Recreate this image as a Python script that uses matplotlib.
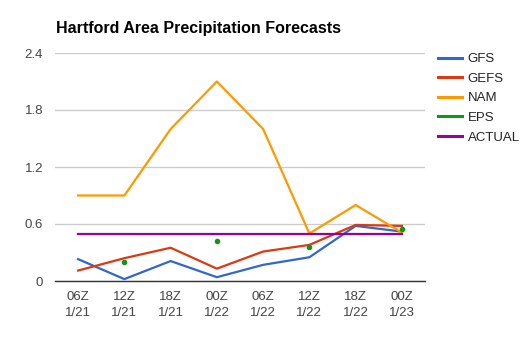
import numpy as np
import matplotlib.pyplot as plt

plt.rcParams['font.family'] = ['Liberation Sans', 'DejaVu Sans']

# forecast times
times = ['06Z\n1/21', '12Z\n1/21', '18Z\n1/21', '00Z\n1/22',
         '06Z\n1/22', '12Z\n1/22', '18Z\n1/22', '00Z\n1/23']
gfs = [0.23, 0.02, 0.21, 0.04, 0.17, 0.25, 0.58, 0.52]
gefs = [0.11, 0.24, 0.35, 0.13, 0.31, 0.38, 0.59, 0.58]
nam = [0.9, 0.9, 1.6, 2.1, 1.6, 0.5, 0.8, 0.51]
eps = [np.nan, 0.2, np.nan, 0.42, np.nan, 0.36, np.nan, 0.55]
actual = [0.49] * 8

names = ['GFS', 'GEFS', 'NAM', 'EPS', 'ACTUAL']
colors = ['#3366cc', '#dc3912', '#ff9900', '#109618', '#990099']

fig = plt.figure(figsize=(5.2, 3.45), dpi=100)
ax = fig.add_axes([55/520, 64/345, 370/520, 228/345])

x = np.arange(len(times))
lw = 1.6
ax.plot(x, gfs, color=colors[0], lw=lw, label=names[0], zorder=3)
ax.plot(x, gefs, color=colors[1], lw=lw, label=names[1], zorder=3)
ax.plot(x, nam, color=colors[2], lw=lw, label=names[2], zorder=3)
# EPS only has a few points, drawn as dots
ax.plot(x, eps, 'o', color=colors[3], ms=3, label=names[3], zorder=4)
ax.plot(x, actual, color=colors[4], lw=lw, label=names[4], zorder=3)

ax.set_xlim(-0.5, len(times) - 0.5)
ax.set_ylim(0, 2.4)
ax.set_yticks([0, 0.6, 1.2, 1.8, 2.4])
ax.set_yticklabels(['0', '0.6', '1.2', '1.8', '2.4'])
ax.set_xticks(x)
ax.set_xticklabels(times, linespacing=1.5)
ax.tick_params(length=0, labelsize=9.5, colors='#444444')
ax.tick_params(axis='y', pad=8.6)
ax.tick_params(axis='x', pad=7)
ax.grid(axis='y', color='#cccccc', lw=1)
ax.set_axisbelow(True)
for s in ['left', 'right', 'top']:
    ax.spines[s].set_visible(False)
ax.spines['bottom'].set_color('#333333')
ax.spines['bottom'].set_linewidth(1)
ax.spines['bottom'].set_zorder(5)

fig.text(56/520, 1 - 28/345, 'Hartford Area Precipitation Forecasts',
         fontsize=11.5, fontweight='bold', va='center', ha='left')

handles = [plt.Line2D([], [], color=c, lw=2.2) for c in colors]
fig.legend(handles, names, loc='upper left', bbox_to_anchor=(438/520, 1 - 53/345),
           frameon=False, fontsize=9.5, handlelength=1.8, handletextpad=0.45,
           labelspacing=0.56, borderaxespad=0, borderpad=0, labelcolor='#222222')

plt.savefig('out.png', dpi=100)
